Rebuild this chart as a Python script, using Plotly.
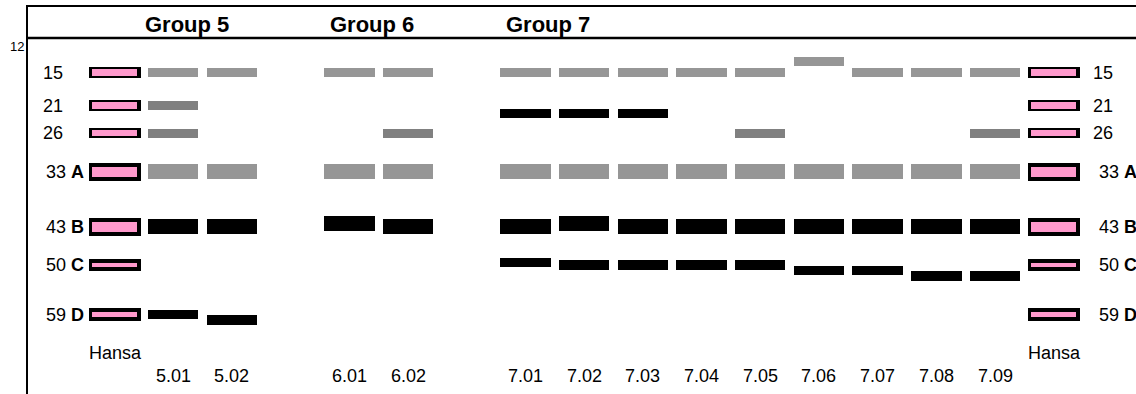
import plotly.graph_objects as go

# ---------------- data ----------------
groups = ["Group 5", "Group 6", "Group 7"]
group_lanes = [
    ["5.01", "5.02"],
    ["6.01", "6.02"],
    ["7.01", "7.02", "7.03", "7.04", "7.05", "7.06", "7.07", "7.08", "7.09"],
]
ladder_name = "Hansa"

# size-marker ladder (Hansa)
marker_mw = [15, 21, 26, 33, 43, 50, 59]
marker_letter = ["", "", "", "A", "B", "C", "D"]
marker_class = ["thin", "thin", "thin", "thick", "thick", "heavy", "heavy"]

# sample bands: lane, apparent position, shade, size
band_lane = (["5.01"] * 6 + ["5.02"] * 4 + ["6.01"] * 3 + ["6.02"] * 4 +
             ["7.01"] * 5 + ["7.02"] * 5 + ["7.03"] * 5 + ["7.04"] * 4 +
             ["7.05"] * 5 + ["7.06"] * 4 + ["7.07"] * 4 + ["7.08"] * 4 +
             ["7.09"] * 5)
band_mw = ([15, 21, 26, 33, 43, 59] + [15, 33, 43, 60] + [15, 33, 42.5] +
           [15, 26, 33, 43] +
           [15, 22.5, 33, 43, 49.5] + [15, 22.5, 33, 42.5, 50] +
           [15, 22.5, 33, 43, 50] + [15, 33, 43, 50] +
           [15, 26, 33, 43, 50] + [13, 33, 43, 51] + [15, 33, 43, 51] +
           [15, 33, 43, 52] + [15, 26, 33, 43, 52])
band_shade = (["light", "mid", "mid", "light", "dark", "dark"] +
              ["light", "light", "dark", "dark"] +
              ["light", "light", "dark"] +
              ["light", "mid", "light", "dark"] +
              ["light", "dark", "light", "dark", "dark"] +
              ["light", "dark", "light", "dark", "dark"] +
              ["light", "dark", "light", "dark", "dark"] +
              ["light", "light", "dark", "dark"] +
              ["light", "mid", "light", "dark", "dark"] +
              ["light", "light", "dark", "dark"] +
              ["light", "light", "dark", "dark"] +
              ["light", "light", "dark", "dark"] +
              ["light", "mid", "light", "dark", "dark"])
band_size = (["thin", "thin", "thin", "thick", "thick", "thin"] +
             ["thin", "thick", "thick", "medium"] +
             ["thin", "thick", "thick"] +
             ["thin", "thin", "thick", "thick"] +
             ["thin", "thin", "thick", "thick", "thin"] +
             ["thin", "thin", "thick", "thick", "medium"] +
             ["thin", "thin", "thick", "thick", "medium"] +
             ["thin", "thick", "thick", "medium"] +
             ["thin", "thin", "thick", "thick", "medium"] +
             ["thin", "thick", "thick", "thin"] +
             ["thin", "thick", "thick", "thin"] +
             ["thin", "thick", "thick", "medium"] +
             ["thin", "thin", "thick", "thick", "medium"])

# ---------------- layout / style ----------------
W, H = 1136, 394
L, T = 28, 7
SLOT_PX = 58.7
SLOT0_PX = 114.5
MW_PX = 5.5
REF_MW, REF_PX = 15, 72.5

shade_color = {"light": "#969696", "mid": "#808080", "dark": "#000000"}
size_px = {"thin": 9, "medium": 10, "thick": 15}
marker_outer_px = {"thin": 10.5, "thick": 18, "heavy": 12.5}
marker_inner_px = {"thin": 6.5, "thick": 10, "heavy": 4.5}
BAND_W = 50.5 / SLOT_PX
MARK_OUT_W = 52 / SLOT_PX
MARK_IN_W = 44.5 / SLOT_PX
FONT = "Liberation Sans, Arial, sans-serif"


def mw_at(py):
    return REF_MW + (py - REF_PX) / MW_PX


def px_units(p):
    return p / MW_PX


def paper_x(px):
    return (px - L) / (W - L)


def paper_y(py):
    return (H - py) / (H - T)


# lane slots: ladder, groups separated by an empty slot, ladder
slot = {}
s = 0
left_ladder_slot = s
for gi, lanes in enumerate(group_lanes):
    s += 1 if gi == 0 else 2
    for j, ln in enumerate(lanes):
        if j:
            s += 1
        slot[ln] = s
right_ladder_slot = s + 1

fig = go.Figure()

# sample bands
bx = [slot[l] for l in band_lane]
bh = [px_units(size_px[z]) for z in band_size]
bb = [m - h / 2 for m, h in zip(band_mw, bh)]
fig.add_trace(go.Bar(x=bx, y=bh, base=bb, width=[BAND_W] * len(bx),
                     marker=dict(color=[shade_color[c] for c in band_shade],
                                 line=dict(width=0)),
                     hoverinfo="skip"))

# ladders
for ls in (left_ladder_slot, right_ladder_slot):
    oh = [px_units(marker_outer_px[c]) for c in marker_class]
    ih = [px_units(marker_inner_px[c]) for c in marker_class]
    fig.add_trace(go.Bar(x=[ls] * len(marker_mw), y=oh,
                         base=[m - h / 2 for m, h in zip(marker_mw, oh)],
                         width=[MARK_OUT_W] * len(marker_mw),
                         marker=dict(color="#000000", line=dict(width=0)),
                         hoverinfo="skip"))
    fig.add_trace(go.Bar(x=[ls] * len(marker_mw), y=ih,
                         base=[m - h / 2 for m, h in zip(marker_mw, ih)],
                         width=[MARK_IN_W] * len(marker_mw),
                         marker=dict(color="#FF99CC", line=dict(width=0)),
                         hoverinfo="skip"))

ann = []
# ladder labels
for m, let, c in zip(marker_mw, marker_letter, marker_class):
    txt = f"{m} <b>{let}</b>" if let else f"{m}"
    lx = 41 if c == "thin" else 44
    rx = 1091 if c == "thin" else 1096.5
    for xx in (lx, rx):
        ann.append(dict(x=paper_x(xx), xref="paper", y=m, yref="y",
                        text=txt, showarrow=False, xanchor="left",
                        yanchor="middle", font=dict(size=18, color="#000")))
# lane labels
for lanes in group_lanes:
    for ln in lanes:
        ann.append(dict(x=slot[ln], xref="x", y=paper_y(376), yref="paper",
                        text=ln, showarrow=False, xanchor="center",
                        yanchor="middle", font=dict(size=18, color="#000")))
for px in (87, 1026):
    ann.append(dict(x=paper_x(px), xref="paper", y=paper_y(353), yref="paper",
                    text=ladder_name, showarrow=False, xanchor="left",
                    yanchor="middle", font=dict(size=18, color="#000")))
# group titles
for g, px in zip(groups, (143, 328, 504)):
    ann.append(dict(x=paper_x(px), xref="paper", y=paper_y(25), yref="paper",
                    text=f"<b>{g}</b>", showarrow=False, xanchor="left",
                    yanchor="middle", font=dict(size=22, color="#000")))
# top tick label
ann.append(dict(x=paper_x(26), xref="paper", y=paper_y(46.5), yref="paper",
                text="12", showarrow=False, xanchor="right", yanchor="middle",
                font=dict(size=13, color="#000")))

fig.update_layout(
    width=W, height=H,
    margin=dict(l=L, r=0, t=T, b=0, pad=0),
    paper_bgcolor="white", plot_bgcolor="white",
    barmode="overlay", showlegend=False, bargap=0,
    font=dict(family=FONT, color="#000"),
    xaxis=dict(range=[(L - SLOT0_PX) / SLOT_PX, (W - SLOT0_PX) / SLOT_PX],
               showgrid=False, zeroline=False, showticklabels=False,
               ticks="", side="top", showline=True, linecolor="#000",
               linewidth=2, fixedrange=True),
    yaxis=dict(range=[mw_at(H), mw_at(T)], showgrid=False, zeroline=False,
               showticklabels=False, ticks="", showline=True,
               linecolor="#000", linewidth=2, fixedrange=True),
    shapes=[dict(type="line", xref="paper", yref="paper", x0=0, x1=1,
                 y0=paper_y(38), y1=paper_y(38),
                 line=dict(color="#000", width=2.5))],
    annotations=ann,
)

fig.write_html(
    "out.html",
    config={"displayModeBar": False, "staticPlot": True},
    post_script="document.body.style.margin='0';document.body.style.overflow='hidden';",
)
